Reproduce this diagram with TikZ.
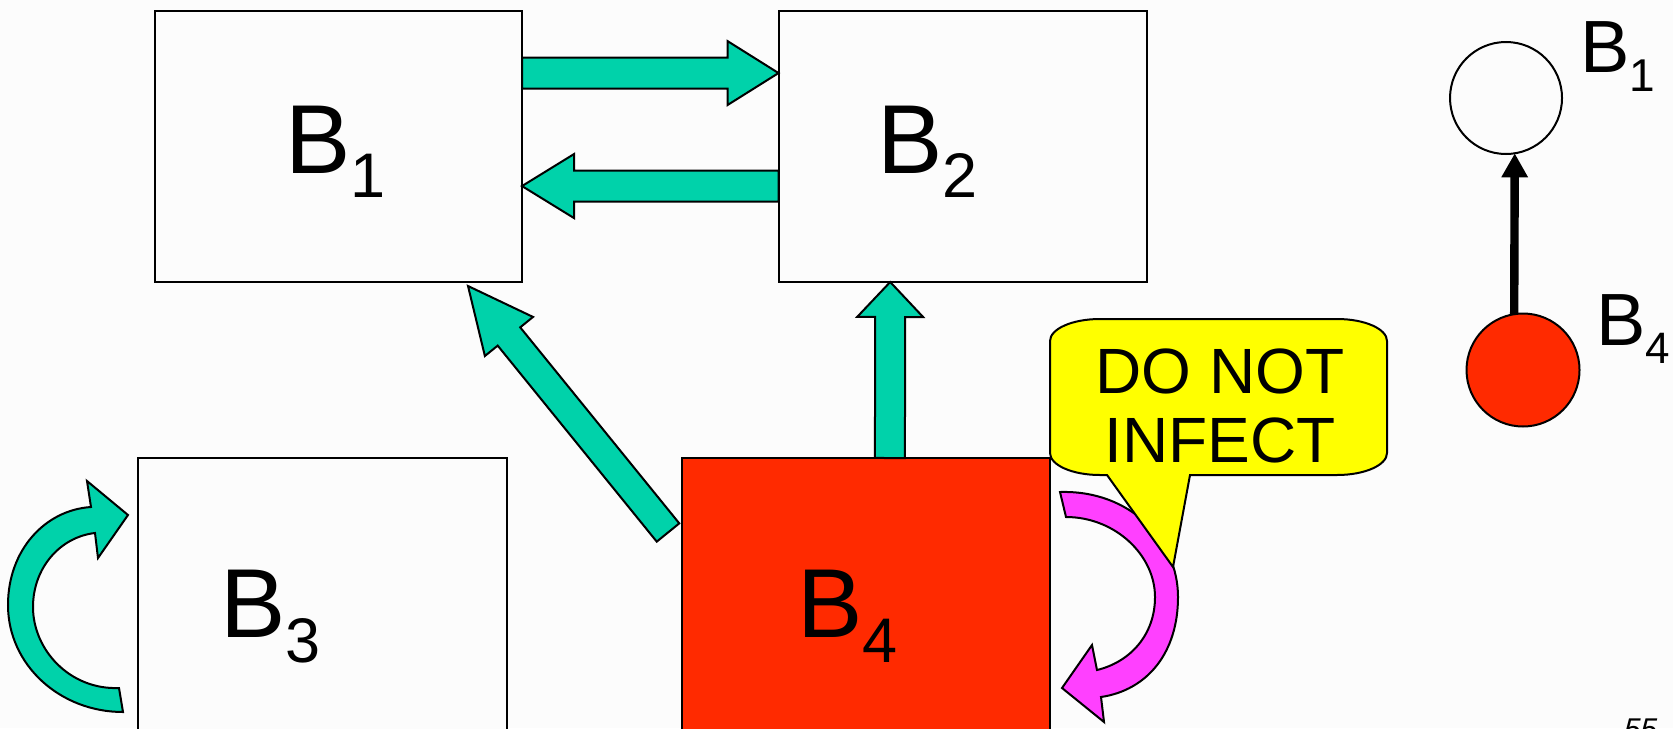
\documentclass[tikz,border=0pt]{standalone}
\usepackage{fontspec}
\setmainfont{Liberation Sans}
\usetikzlibrary{calc,arrows.meta}
\definecolor{bgc}{HTML}{FCFCFC}
\definecolor{teal1}{HTML}{00D2AA}
\definecolor{red1}{HTML}{FF2A00}
\definecolor{pink1}{HTML}{FF40FF}
\definecolor{yel1}{HTML}{FFFF00}
% block arrow: #1 style, #2 start, #3 end, #4 shaft half width, #5 head half width, #6 head length
\newcommand\blockarrow[6]{%
  \coordinate (bac) at ($(#3)!#6!(#2)$);
  \draw[#1] ($(#2)!#4!90:(#3)$) -- ($(bac)!#4!90:(#3)$) -- ($(bac)!#5!90:(#3)$) -- (#3)
    -- ($(bac)!#5!-90:(#3)$) -- ($(bac)!#4!-90:(#3)$) -- ($(#2)!#4!-90:(#3)$) -- cycle;}
\begin{document}
\begin{tikzpicture}[x=0.5pt,y=-0.5pt,
  box/.style={draw, line width=1pt, rectangle, inner sep=0, outer sep=0, minimum width=184pt, minimum height=135.5pt},
  lab/.style={anchor=base west, inner sep=0, outer sep=0},
  blk/.style={draw, line width=1pt, fill=teal1, line join=miter},
  dot/.style={circle, draw, line width=1pt, inner sep=0, outer sep=0},
]
\useasboundingbox (0,0) rectangle (1673,728);
\clip (0,0) rectangle (1673,728);
\fill[bgc] (0,0) rectangle (1673,728);
% boxes
\node[box, fill=bgc, minimum width=183.5pt] (B1) at (338.5,146.5) {};
\node[box, fill=bgc] (B2) at (962.5,146.5) {};
\node[box, fill=bgc, minimum width=184.5pt, minimum height=171pt] (B3) at (322.5,629) {};
\node[box, fill=red1, minimum height=171pt] (B4) at (866,629) {};
% labels
\node[lab] (L1) at (285,173) {\fontsize{49}{49}\selectfont B\raisebox{-12pt}{\fontsize{31.5}{31.5}\selectfont 1}};
\node[lab] (L2) at (877,173) {\fontsize{49}{49}\selectfont B\raisebox{-12pt}{\fontsize{31.5}{31.5}\selectfont 2}};
\node[lab] (L3) at (220,637) {\fontsize{49}{49}\selectfont B\raisebox{-12.5pt}{\fontsize{31.5}{31.5}\selectfont 3}};
\node[lab] (L4) at (797,637) {\fontsize{49}{49}\selectfont B\raisebox{-12.5pt}{\fontsize{31.5}{31.5}\selectfont 4}};
% straight block arrows
\coordinate (a1s) at ($(B1.north east)!.229!(B1.south east)$);
\coordinate (a1e) at ($(B2.north west)!.229!(B2.south west)$);
\coordinate (a2s) at ($(B2.north west)!.646!(B2.south west)$);
\coordinate (a2e) at ($(B1.north east)!.646!(B1.south east)$);
\coordinate (a3s) at ($(B4.north west)!.565!(B4.north east)$);
\coordinate (a3e) at ($(B2.south west)!.3035!(B2.south east)$);
\coordinate (a4s) at (668,532.5);
\coordinate (a4e) at (468,286);
\blockarrow{blk}{a1s}{a1e}{7.75pt}{16pt}{25.5pt}
\blockarrow{blk}{a2s}{a2e}{7.75pt}{16pt}{26pt}
\blockarrow{blk}{a3s}{a3e}{7.5pt}{16.5pt}{17.5pt}
\blockarrow{blk}{a4s}{a4e}{7.25pt}{15.5pt}{32.5pt}
% curved teal arrow (B3 self)
\draw[blk] (123,712) .. controls (60,712) and (8,665) .. (8,605)
  .. controls (8,550) and (45,510) .. (91,507) -- (87,481) -- (128,515) -- (98,558) -- (95,533)
  .. controls (60,537) and (33,568) .. (33,607) .. controls (33,650) and (70,690) .. (119,688) -- cycle;
% curved pink arrow (B4 self)
\draw[blk, fill=pink1] (1060,492) .. controls (1130,490) and (1178,540) .. (1178,597)
  .. controls (1178,652) and (1148,690) .. (1101,697) -- (1104,722) -- (1062,688) -- (1092,645) -- (1097,670)
  .. controls (1130,662) and (1155,635) .. (1155,597) .. controls (1155,555) and (1115,517) .. (1066,517) -- cycle;
% callout
\draw[line width=1pt, fill=yel1] (1100,319) -- (1337,319) .. controls (1365,319) and (1387,329) .. (1387,341)
  -- (1387,453) .. controls (1387,465) and (1365,475) .. (1337,475) -- (1190,475) -- (1173,567) -- (1107,475)
  -- (1100,475) .. controls (1072,475) and (1050,465) .. (1050,453) -- (1050,341)
  .. controls (1050,329) and (1072,319) .. (1100,319) -- cycle;
\node[align=center, inner sep=0, font=\fontsize{32}{34.5}\selectfont, anchor=base] (CT) at (1220,462) {DO NOT\\INFECT};
% right graph
\node[dot, fill=bgc, minimum size=56pt] (C1) at (1506,98) {};
\node[dot, fill=red1, minimum size=56.5pt] (C4) at (1523,370) {};
\draw[line width=4.2pt, -{Triangle[width=12.5pt,length=12pt]}] (C4.99) -- (C1.-81);
\node[lab] (R1) at (1580,72) {\fontsize{37}{37}\selectfont B\raisebox{-9.5pt}{\fontsize{23}{23}\selectfont 1}};
\node[lab] (R4) at (1596.5,345) {\fontsize{37}{37}\selectfont B\raisebox{-9pt}{\fontsize{22}{22}\selectfont 4}};
% page number
\node[lab, font=\fontsize{15}{15}\selectfont\itshape] (pg) at (1624,739) {55};
\end{tikzpicture}
\end{document}
